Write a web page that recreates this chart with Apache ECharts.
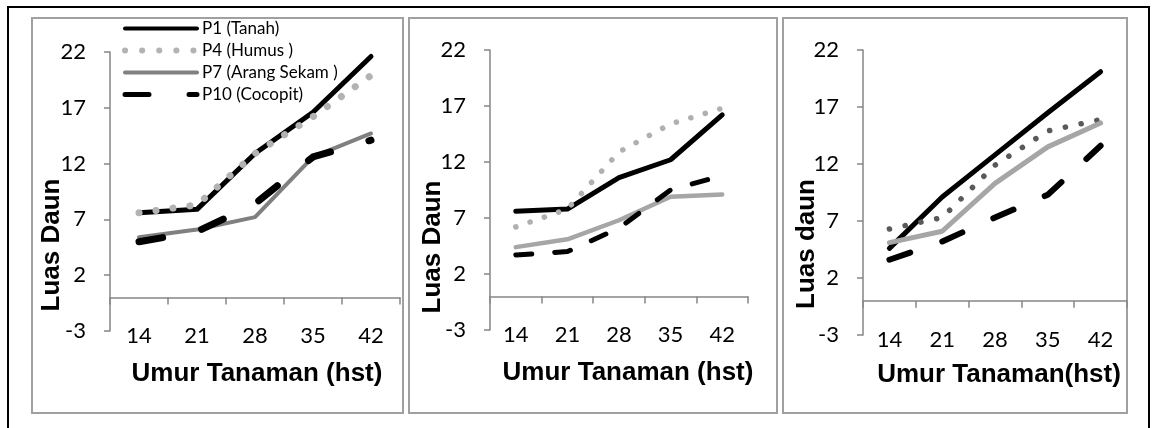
<!DOCTYPE html>
<html>
<head>
<meta charset="utf-8">
<script src="https://cdn.jsdelivr.net/npm/echarts@6/dist/echarts.min.js"></script>
<style>
  html, body { margin: 0; padding: 0; background: #fff; }
  #main { width: 1157px; height: 428px; }
</style>
</head>
<body>
<div id="main"></div>
<script>
var categories = ['14', '21', '28', '35', '42'];
var names = ['P1 (Tanah)', 'P4 (Humus )', 'P7 (Arang Sekam )', 'P10 (Cocopit)'];

// panel 1
var p1a = [7.6, 7.9, 12.9, 16.6, 21.6];
var p4a = [7.6, 8.3, 12.9, 16.2, 19.9];
var p7a = [5.4, 6.1, 7.2, 12.6, 14.7];
var p10a = [5.0, 5.9, 8.4, 12.6, 14.1];
// panel 2
var p1b = [7.6, 7.8, 10.6, 12.2, 16.2];
var p4b = [6.2, 7.8, 12.9, 15.4, 16.8];
var p7b = [4.4, 5.1, 6.8, 8.9, 9.1];
var p10b = [3.7, 4.0, 6.1, 9.5, 10.8];
// panel 3
var p1c = [4.6, 9.1, 12.8, 16.5, 20.1];
var p4c = [6.3, 7.3, 11.9, 14.9, 15.9];
var p7c = [5.1, 6.1, 10.3, 13.5, 15.6];
var p10c = [3.6, 5.2, 7.3, 9.3, 13.6];

var yMin = -3;
var yMax = 22;
var yStep = 5;

var chart = echarts.init(document.getElementById('main'), null, { renderer: 'canvas' });

var axisGray = '#868686';
var tickFont = 'Lato';
var titleFont = 'bold 26px "Liberation Sans"';

function makeX(idx, labelMargin) {
  return {
    gridIndex: idx,
    type: 'category',
    data: categories,
    boundaryGap: true,
    axisLine: { onZero: true, lineStyle: { color: axisGray, width: 1.5 } },
    axisTick: { show: true, length: 7, interval: 0, lineStyle: { color: axisGray, width: 1.5 } },
    axisLabel: { interval: 0, margin: labelMargin, color: '#000', fontSize: 22, fontFamily: tickFont },
    splitLine: { show: false }
  };
}

function makeY(idx) {
  return {
    gridIndex: idx,
    type: 'value',
    min: yMin,
    max: yMax,
    interval: yStep,
    axisLine: { show: true, lineStyle: { color: axisGray, width: 1.5 } },
    axisTick: { show: true, length: 6, lineStyle: { color: axisGray, width: 1.5 } },
    axisLabel: { margin: 24, color: '#000', fontSize: 22, fontFamily: tickFont },
    splitLine: { show: false }
  };
}

function line(idx, name, data, color, width, dash) {
  return {
    name: name,
    type: 'line',
    xAxisIndex: idx,
    yAxisIndex: idx,
    data: data,
    symbol: 'none',
    silent: true,
    lineStyle: { color: color, width: width, type: dash || 'solid', cap: 'round', join: 'round' },
    itemStyle: { color: color }
  };
}

function titleText(text, x, y, rot) {
  return {
    type: 'text',
    x: x,
    y: y,
    rotation: rot || 0,
    style: { text: text, font: titleFont, fill: '#000', align: 'center', verticalAlign: 'middle' }
  };
}

var option = {
  backgroundColor: '#fff',
  animation: false,
  legend: {
    data: [
      { name: names[0], lineStyle: { width: 4 } },
      { name: names[1], lineStyle: { width: 6 } },
      { name: names[2], lineStyle: { width: 4 } },
      { name: names[3], lineStyle: { width: 5 } }
    ],
    orient: 'vertical',
    left: 117,
    top: 15,
    itemWidth: 72,
    itemHeight: 16,
    itemGap: 5,
    itemStyle: { opacity: 0 },
    textStyle: { fontSize: 17, fontFamily: tickFont, color: '#000' }
  },
  grid: [
    { left: 110, top: 52, width: 290, height: 279 },
    { left: 490, top: 50, width: 258, height: 280 },
    { left: 863, top: 50, width: 264, height: 285 }
  ],
  xAxis: [makeX(0, -6), makeX(1, -6), makeX(2, -6)],
  yAxis: [makeY(0), makeY(1), makeY(2)],
  series: [
    line(0, names[0], p1a, '#000', 5),
    line(0, names[1], p4a, '#b3b3b3', 7, [0.1, 17]),
    line(0, names[2], p7a, '#808080', 4),
    line(0, names[3], p10a, '#000', 7, [24, 40]),

    line(1, names[0], p1b, '#000', 5),
    line(1, names[1], p4b, '#b0b0b0', 5.5, [0.1, 15]),
    line(1, names[2], p7b, '#a6a6a6', 4.5),
    line(1, names[3], p10b, '#000', 5, [16, 23]),

    line(2, names[0], p1c, '#000', 5),
    line(2, names[1], p4c, '#595959', 5.5, [0.1, 16]),
    line(2, names[2], p7c, '#a6a6a6', 5),
    line(2, names[3], p10c, '#000', 6, [22, 34])
  ],
  graphic: [
    { type: 'rect', z: -10, shape: { x: 8, y: 7, width: 1141, height: 440 }, style: { fill: 'none', stroke: '#000', lineWidth: 2 } },
    { type: 'rect', z: -10, shape: { x: 32, y: 18, width: 371, height: 395 }, style: { fill: 'none', stroke: '#a0a0a0', lineWidth: 2 } },
    { type: 'rect', z: -10, shape: { x: 409, y: 18, width: 368, height: 395 }, style: { fill: 'none', stroke: '#a0a0a0', lineWidth: 2 } },
    { type: 'rect', z: -10, shape: { x: 783, y: 18, width: 344, height: 395 }, style: { fill: 'none', stroke: '#a0a0a0', lineWidth: 2 } },
    titleText('Luas Daun', 52, 245, Math.PI / 2),
    titleText('Luas Daun', 433, 247, Math.PI / 2),
    titleText('Luas daun', 807, 244, Math.PI / 2),
    titleText('Umur Tanaman (hst)', 257, 374),
    titleText('Umur Tanaman (hst)', 628, 373),
    titleText('Umur Tanaman(hst)', 999, 375)
  ]
};

chart.setOption(option);
</script>
</body>
</html>
